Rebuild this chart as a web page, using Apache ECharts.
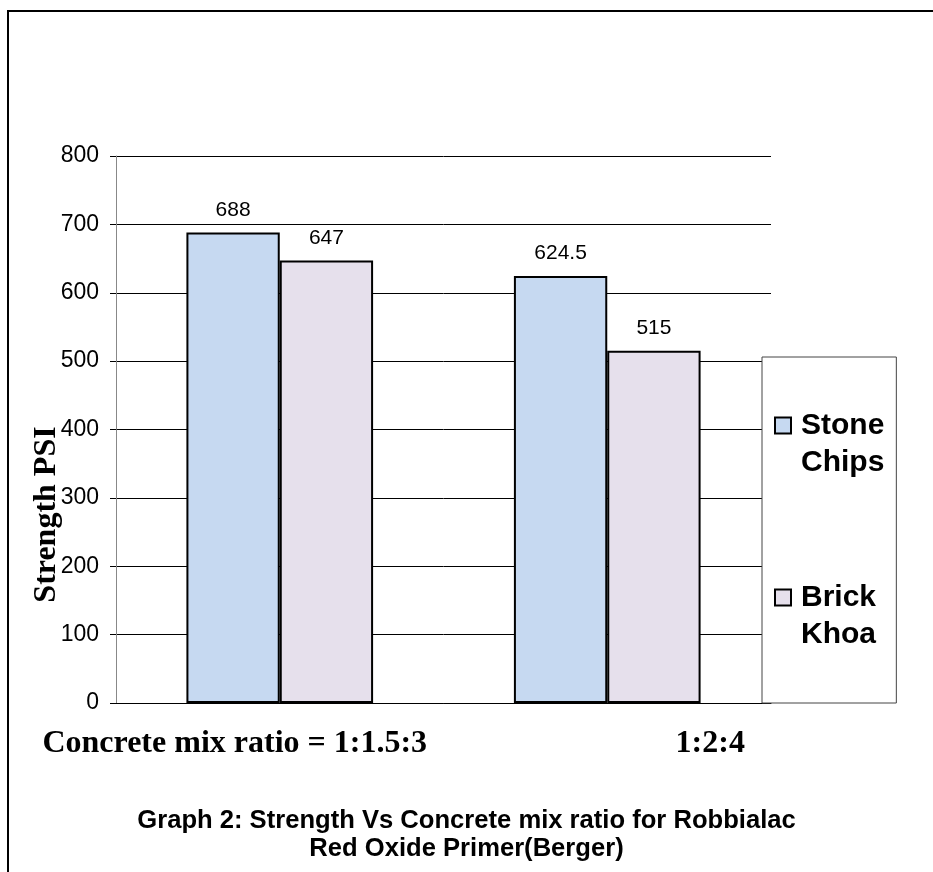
<!DOCTYPE html>
<html>
<head>
<meta charset="utf-8">
<script src="https://cdn.jsdelivr.net/npm/echarts@6/dist/echarts.min.js"></script>
<style>
  html, body { margin: 0; padding: 0; background: #fff; }
  #chart { width: 933px; height: 872px; }
</style>
</head>
<body>
<div id="chart"></div>
<script>
// data
const categories = ['Concrete mix ratio = 1:1.5:3', '1:2:4'];
const seriesNames = ['Stone Chips', 'Brick Khoa'];
const stoneChips = [688, 624.5];
const brickKhoa = [647, 515];
const yMin = 0, yMax = 800, yStep = 100;

const serif = '"Liberation Serif", "Times New Roman", serif';
const sans = '"Liberation Sans", Arial, sans-serif';

const chart = echarts.init(document.getElementById('chart'));

const option = {
  backgroundColor: '#fff',
  animation: false,
  title: {
    text: 'Graph 2: Strength Vs Concrete mix ratio for Robbialac\nRed Oxide Primer(Berger)',
    left: 'center',
    top: 802,
    padding: [5, 10, 5, 0],
    textStyle: { fontFamily: sans, fontWeight: 'bold', fontSize: 25.6, lineHeight: 28, color: '#000' }
  },
  graphic: [{
    // outer frame, runs off right and bottom edge
    type: 'rect',
    shape: { x: 8, y: 11, width: 1200, height: 1200 },
    style: { fill: 'none', stroke: '#000', lineWidth: 2 },
    silent: true
  }],
  legend: {
    orient: 'vertical',
    left: 762,
    top: 357,
    padding: [50, 12, 50, 12],
    backgroundColor: '#fff',
    borderColor: '#444',
    borderWidth: 1,
    itemWidth: 16,
    itemHeight: 53,
    itemGap: 98,
    icon: 'path://M0,0 L16,0 L16,16 L0,16 Z M0,53',
    formatter: name => name.replace(' ', '\n'),
    textStyle: { fontFamily: sans, fontWeight: 'bold', fontSize: 30, lineHeight: 37, color: '#000', padding: [0, 0, 0, 5] },
    data: seriesNames
  },
  grid: { left: 116, right: 162, top: 156, bottom: 169 },
  xAxis: {
    type: 'category',
    data: categories,
    axisLine: { lineStyle: { color: '#000', width: 1 } },
    axisTick: { show: false },
    axisLabel: {
      interval: 0,
      margin: 23,
      fontFamily: serif,
      fontWeight: 'bold',
      fontSize: 32,
      color: '#000',
      formatter: (v, i) => (i === 0 ? '{a|' + v + '}' : '{b|' + v + '}'),
      rich: {
        a: { fontFamily: serif, fontWeight: 'bold', fontSize: 32, lineHeight: 36, color: '#000', padding: [0, 90, 0, 0] },
        b: { fontFamily: serif, fontWeight: 'bold', fontSize: 32, lineHeight: 36, color: '#000', padding: [0, 0, 0, 206] }
      }
    }
  },
  yAxis: {
    type: 'value',
    min: yMin,
    max: yMax,
    interval: yStep,
    name: 'Strength PSI',
    nameLocation: 'middle',
    nameRotate: 90,
    nameGap: 53,
    nameMoveOverlap: false,
    nameTextStyle: { fontFamily: serif, fontWeight: 'bold', fontSize: 32, color: '#000', padding: [0, 170, 0, 0] },
    axisLine: { show: true, lineStyle: { color: '#888', width: 1 } },
    axisTick: { show: true, length: 6, lineStyle: { color: '#000' } },
    axisLabel: { margin: 17, fontFamily: sans, fontSize: 23, color: '#000' },
    splitLine: { lineStyle: { color: '#000', width: 1 } }
  },
  series: [
    {
      name: seriesNames[0],
      type: 'bar',
      data: stoneChips,
      barGap: '0%',
      barCategoryGap: '43%',
      itemStyle: { color: '#C6D9F1', borderColor: '#000', borderWidth: 2 },
      label: { show: true, position: 'top', distance: 12, fontFamily: sans, fontSize: 21, color: '#000' }
    },
    {
      name: seriesNames[1],
      type: 'bar',
      data: brickKhoa,
      barGap: '0%',
      barCategoryGap: '43%',
      itemStyle: { color: '#E6E0EC', borderColor: '#000', borderWidth: 2 },
      label: { show: true, position: 'top', distance: 12, fontFamily: sans, fontSize: 21, color: '#000' }
    }
  ]
};

chart.setOption(option);
</script>
</body>
</html>
